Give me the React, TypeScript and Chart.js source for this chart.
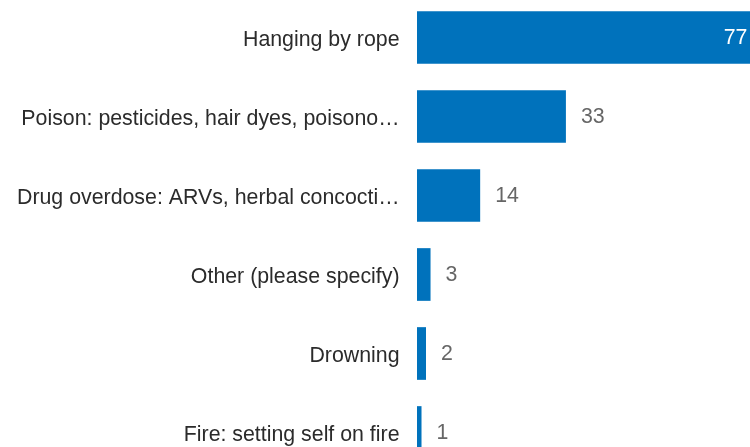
import React, { useEffect, useRef } from "react";
import { Chart, registerables } from "chart.js";

Chart.register(...registerables);

const categories: string[] = [
  "Hanging by rope",
  "Poison: pesticides, hair dyes, poisono…",
  "Drug overdose: ARVs, herbal concocti…",
  "Other (please specify)",
  "Drowning",
  "Fire: setting self on fire",
];
const values: number[] = [77, 33, 14, 3, 2, 1];

const BAR_COLOR = "#0072BC";
const FONT = "'Liberation Sans', Arial, sans-serif";
const FONT_SIZE = 21.33;

const valueLabelPlugin = {
  id: "valueLabels",
  afterDatasetsDraw(chart: any) {
    const ctx = chart.ctx;
    const meta = chart.getDatasetMeta(0);
    const area = chart.chartArea;
    ctx.save();
    ctx.font = `${FONT_SIZE}px ${FONT}`;
    ctx.textBaseline = "middle";
    meta.data.forEach((bar: any, i: number) => {
      const text = String(values[i]);
      const w = ctx.measureText(text).width;
      const outsideX = bar.x + 15;
      if (outsideX + w > area.right) {
        ctx.fillStyle = "#ffffff";
        ctx.textAlign = "right";
        ctx.fillText(text, bar.x - 17, bar.y + 1);
      } else {
        ctx.fillStyle = "#666666";
        ctx.textAlign = "left";
        ctx.fillText(text, outsideX, bar.y + 1);
      }
    });
    ctx.restore();
  },
};

export default function App() {
  const ref = useRef<HTMLCanvasElement | null>(null);
  useEffect(() => {
    if (!ref.current) return;
    const chart = new Chart(ref.current, {
      type: "bar",
      data: {
        labels: categories,
        datasets: [
          {
            data: values,
            backgroundColor: BAR_COLOR,
            barPercentage: 0.667,
            categoryPercentage: 1,
          },
        ],
      },
      options: {
        indexAxis: "y",
        animation: false,
        responsive: true,
        maintainAspectRatio: false,
        devicePixelRatio: 1,
        layout: { padding: 0 },
        plugins: {
          legend: { display: false },
          tooltip: { enabled: false },
        },
        scales: {
          x: {
            display: false,
            min: 0,
            max: 80,
          },
          y: {
            grid: { display: false, drawTicks: false },
            border: { display: false },
            ticks: {
              color: "#2b2b2b",
              font: { family: FONT, size: FONT_SIZE },
              padding: 17.5,
              labelOffset: 3,
              autoSkip: false,
            },
            afterFit(scale: any) {
              scale.width = 417;
              scale.paddingTop = 0;
              scale.paddingBottom = 0;
            },
          },
        },
      },
      plugins: [valueLabelPlugin],
    });
    return () => chart.destroy();
  }, []);
  return (
    <div style={{ position: "absolute", left: 0, top: -2, width: 778, height: 474 }}>
      <canvas ref={ref} />
    </div>
  );
}
